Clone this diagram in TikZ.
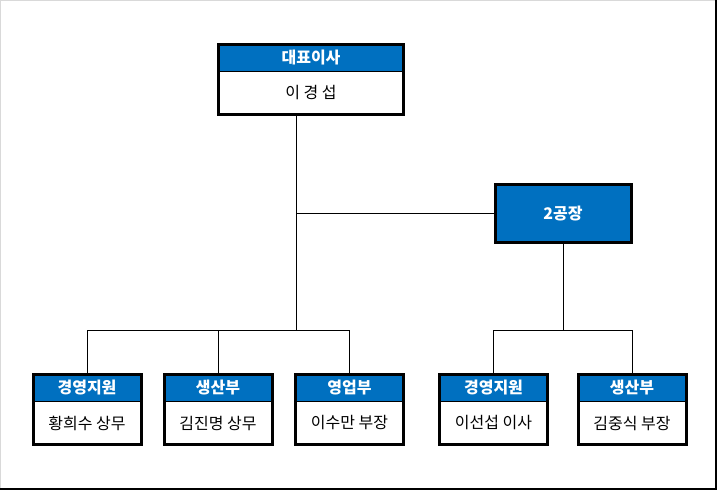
\documentclass[tikz,border=0pt]{standalone}
\usepackage{fontspec}
\setmainfont{Noto Sans CJK KR}
\usetikzlibrary{positioning}
\definecolor{orgblue}{HTML}{0070C0}
\tikzset{
  head/.style={fill=orgblue, draw=black, line width=0.75pt, text=white,
    font=\bfseries\fontsize{12}{14}\selectfont, minimum height=20.25pt,
    inner sep=0pt, outer sep=0pt},
  body/.style={fill=white, draw=black, line width=0.75pt,
    font=\fontsize{12}{14}\selectfont, minimum height=32.25pt,
    inner sep=0pt, outer sep=0pt},
  plantbox/.style={fill=orgblue, draw=black, line width=2.25pt, text=white,
    font=\bfseries\fontsize{12}{14}\selectfont, minimum width=102pt,
    minimum height=43.5pt, inner sep=0pt},
  frame/.style={draw=black, line width=2.25pt},
  wire/.style={draw=black, line width=0.75pt},
}
\def\orgbox[#1](#2)#3#4#5{%
  \node[head, minimum width=#1] (#3H) at (#2) {#4};
  \node[body, minimum width=#1, below=0pt of #3H] (#3) {#5};
  \draw[frame] (#3H.north west) rectangle (#3.south east);}

\begin{document}
\begin{tikzpicture}[x=0.75pt, y=-0.75pt]
  %%%%% page %%%%%
  \useasboundingbox (0,0) rectangle (717,490);
  \draw[black!15] (0.5,489) -- (0.5,0.5) -- (716,0.5);
  \draw[line width=1.5pt] (715.5,0) -- (715.5,488.5) -- (0,488.5);

  %%%%% boxes %%%%%
  \orgbox[139pt](311,58){ceo}{대표이사}{이 경 섭}
  \node[plantbox] (plant) at (563,213.5) {2공장};

  \orgbox[81pt](87,388){admin}{경영지원}{황희수 상무}
  \orgbox[81pt](218,388){prod}{생산부}{김진명 상무}
  \orgbox[81pt](349.5,388){sales}{영업부}{이수만 부장}

  \orgbox[81pt](493.5,388){adminB}{경영지원}{이선섭 이사}
  \orgbox[81pt](632,388){prodB}{생산부}{김중식 부장}

  %%%%% lines %%%%%
  \coordinate (trunk) at (296,0);
  \coordinate (bus) at (0,330);

  \draw[wire] (ceo.south -| trunk) -- (trunk |- bus);
  \draw[wire] (trunk |- plant.west) -- (plant.west);
  \draw[wire] (plant.south) -- (plant.south |- bus);

  \draw[wire] (adminH.north) -- (adminH.north |- bus) -- (salesH.north |- bus) -- (salesH.north);
  \draw[wire] (prodH.north) -- (prodH.north |- bus);
  \draw[wire] (adminBH.north) -- (adminBH.north |- bus) -- (prodBH.north |- bus) -- (prodBH.north);
\end{tikzpicture}
\end{document}
